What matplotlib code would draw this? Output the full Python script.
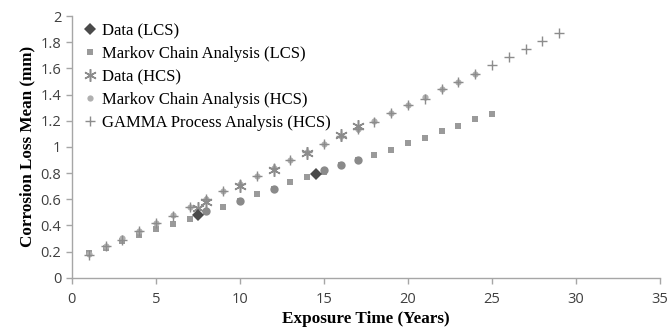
import matplotlib
matplotlib.use("Agg")
import matplotlib.pyplot as plt

# years
t_lcs_model = list(range(1, 26))
t_gamma = list(range(1, 30))
t_mc_hcs = list(range(1, 25))

# Markov chain analysis (LCS)
markov_lcs = [0.19, 0.23, 0.28, 0.33, 0.37, 0.41, 0.45, 0.50, 0.54, 0.59,
              0.64, 0.68, 0.73, 0.77, 0.81, 0.86, 0.90, 0.94, 0.98, 1.03,
              1.07, 1.12, 1.16, 1.21, 1.25]

# Gamma process analysis (HCS)
gamma_hcs = [0.17, 0.24, 0.29, 0.36, 0.42, 0.47, 0.54, 0.60, 0.66, 0.72,
             0.78, 0.84, 0.90, 0.96, 1.02, 1.08, 1.14, 1.19, 1.26, 1.32,
             1.37, 1.44, 1.50, 1.56, 1.63, 1.69, 1.75, 1.81, 1.87]

# Markov chain analysis (HCS)
markov_hcs = [0.18, 0.24, 0.30, 0.36, 0.42, 0.48, 0.54, 0.60, 0.66, 0.72,
              0.78, 0.84, 0.90, 0.96, 1.02, 1.08, 1.14, 1.20, 1.26, 1.32,
              1.38, 1.44, 1.50, 1.56]

# measured data
t_data_lcs = [7.5, 14.5]
data_lcs = [0.48, 0.79]
t_data_lcs_b = [8, 10, 12, 15, 16, 17]
data_lcs_b = [0.51, 0.59, 0.68, 0.82, 0.86, 0.90]
t_data_hcs = [7.5, 8, 10, 12, 14, 16, 17]
data_hcs = [0.53, 0.58, 0.70, 0.82, 0.95, 1.09, 1.16]

fig = plt.figure(figsize=(6.72, 3.29), dpi=100)
ax = fig.add_axes([0.107, 0.156, 0.875, 0.795])

ax.plot(t_lcs_model, markov_lcs, 's', color='#9a9a9a', ms=5, mew=0,
        label='Markov Chain Analysis (LCS)', zorder=2)
ax.plot(t_mc_hcs, markov_hcs, 'o', color='#b0b0b0', ms=4.5, mew=0,
        label='Markov Chain Analysis (HCS)', zorder=2)
ax.plot(t_gamma, gamma_hcs, '+', color='#8c8c8c', ms=7, mew=1.0,
        label='GAMMA Process Analysis (HCS)', zorder=3)
ax.plot(t_data_lcs_b, data_lcs_b, 'o', color='#8a8a8a', ms=6, mew=0, zorder=4)
ax.plot(t_data_lcs, data_lcs, 'D', color='#4a4a4a', ms=6, mew=0,
        label='Data (LCS)', zorder=5)
ax.plot(t_data_hcs, data_hcs, marker=(6, 2, 0), ls='none', color='#8c8c8c',
        ms=9, mew=1.1, label='Data (HCS)', zorder=4)

ax.set_xlim(0, 35)
ax.set_ylim(0, 2)
ax.set_xticks(range(0, 36, 5))
ax.set_yticks([0, 0.2, 0.4, 0.6, 0.8, 1, 1.2, 1.4, 1.6, 1.8, 2])
ax.set_yticklabels(['0', '0.2', '0.4', '0.6', '0.8', '1', '1.2', '1.4',
                    '1.6', '1.8', '2'])

for s in ['top', 'right']:
    ax.spines[s].set_visible(False)
for s in ['left', 'bottom']:
    ax.spines[s].set_color('#a6a6a6')
    ax.spines[s].set_linewidth(1.0)
ax.tick_params(direction='out', length=4, color='#a6a6a6', width=1,
               labelsize=10.5, labelcolor='#404040')
ax.tick_params(axis='x', pad=6)
for lab in ax.get_xticklabels() + ax.get_yticklabels():
    lab.set_family('Open Sans')

ax.set_xlabel('Exposure Time (Years)', family='Liberation Serif',
              fontweight='bold', fontsize=12.3, labelpad=3)
ax.set_ylabel('Corrosion Loss Mean (mm)', family='Liberation Serif',
              fontweight='bold', fontsize=12.3, labelpad=4)

h, l = ax.get_legend_handles_labels()
order = [l.index('Data (LCS)'), l.index('Markov Chain Analysis (LCS)'),
         l.index('Data (HCS)'), l.index('Markov Chain Analysis (HCS)'),
         l.index('GAMMA Process Analysis (HCS)')]
ax.legend([h[i] for i in order], [l[i] for i in order], loc='upper left',
          bbox_to_anchor=(-0.012, 1.03), frameon=False, handletextpad=0.1,
          handlelength=1.2, labelspacing=0.42,
          prop={'family': 'Liberation Serif', 'size': 12})

fig.savefig('out.png', dpi=100)
